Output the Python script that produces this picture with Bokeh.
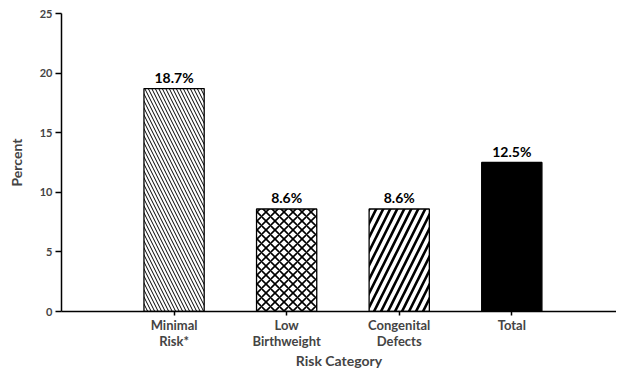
from bokeh.plotting import figure
from bokeh.models import Range1d, FixedTicker, ColumnDataSource, LinearAxis
from bokeh.embed import file_html
from bokeh.resources import INLINE
from bokeh.core.properties import value

categories = ["Minimal\nRisk*", "Low\nBirthweight", "Congenital\nDefects", "Total"]
percents = [18.7, 8.6, 8.6, 12.5]
value_labels = ["18.7%", "8.6%", "8.6%", "12.5%"]
y_ticks = [0, 5, 10, 15, 20, 25]

xs = list(range(1, len(categories) + 1))
FONT = "Lato"

p = figure(width=616, height=371, output_backend="svg", toolbar_location=None,
           x_range=Range1d(0, 4.93), y_range=Range1d(0, 25),
           min_border_left=61, min_border_right=0, min_border_top=13, min_border_bottom=60,
           x_axis_location=None, y_axis_location=None)
p.outline_line_color = None
p.grid.visible = False
p.background_fill_color = "white"

styles = [
    dict(hatch_pattern="\\", hatch_scale=7, hatch_weight=1.0, fill_color="white"),
    dict(hatch_pattern="x", hatch_scale=9, hatch_weight=1.6, fill_color="white"),
    dict(hatch_pattern="/", hatch_scale=14, hatch_weight=2.6, fill_color="white"),
    dict(hatch_pattern=" ", hatch_scale=1, hatch_weight=1, fill_color="black"),
]
for i, st in enumerate(styles):
    src = ColumnDataSource(dict(x=[xs[i]], top=[percents[i]]))
    p.vbar(x="x", top="top", width=0.535, bottom=0, source=src,
           line_color="black", line_width=1.3, hatch_color="black",
           hatch_alpha=1.0, **st)

lab = ColumnDataSource(dict(x=xs, y=percents, t=value_labels))
p.text(x="x", y="y", text="t", source=lab, text_align="center",
       text_baseline="bottom", y_offset=-3, text_font=value(FONT),
       text_font_style="bold", text_font_size="14px", text_color="black")

yax = LinearAxis(ticker=FixedTicker(ticks=y_ticks), axis_label="Percent")
yax.axis_line_width = 1.5
yax.major_tick_line_width = 1.5
yax.major_tick_in = 0
yax.major_tick_out = 6
yax.minor_tick_line_color = None
yax.major_label_text_font = FONT
yax.major_label_text_font_style = "bold"
yax.major_label_text_font_size = "11px"
yax.major_label_standoff = 3
yax.axis_label_text_font = FONT
yax.axis_label_text_font_style = "bold"
yax.axis_label_text_font_size = "14px"
yax.axis_label_standoff = 12
p.add_layout(yax, "left")

xax = LinearAxis(ticker=FixedTicker(ticks=xs), axis_label="Risk Category")
xax.major_label_overrides = {x: c for x, c in zip(xs, categories)}
xax.axis_line_width = 1.5
xax.major_tick_line_width = 1.5
xax.major_tick_in = 0
xax.major_tick_out = 4
xax.minor_tick_line_color = None
xax.major_label_text_font = FONT
xax.major_label_text_font_style = "bold"
xax.major_label_text_font_size = "13px"
xax.major_label_standoff = 1
xax.major_label_text_line_height = 1.0
xax.axis_label_text_font = FONT
xax.axis_label_text_font_style = "bold"
xax.axis_label_text_font_size = "14px"
xax.axis_label_standoff = 0
p.add_layout(xax, "below")

open("out.html", "w").write(file_html(p, INLINE))
